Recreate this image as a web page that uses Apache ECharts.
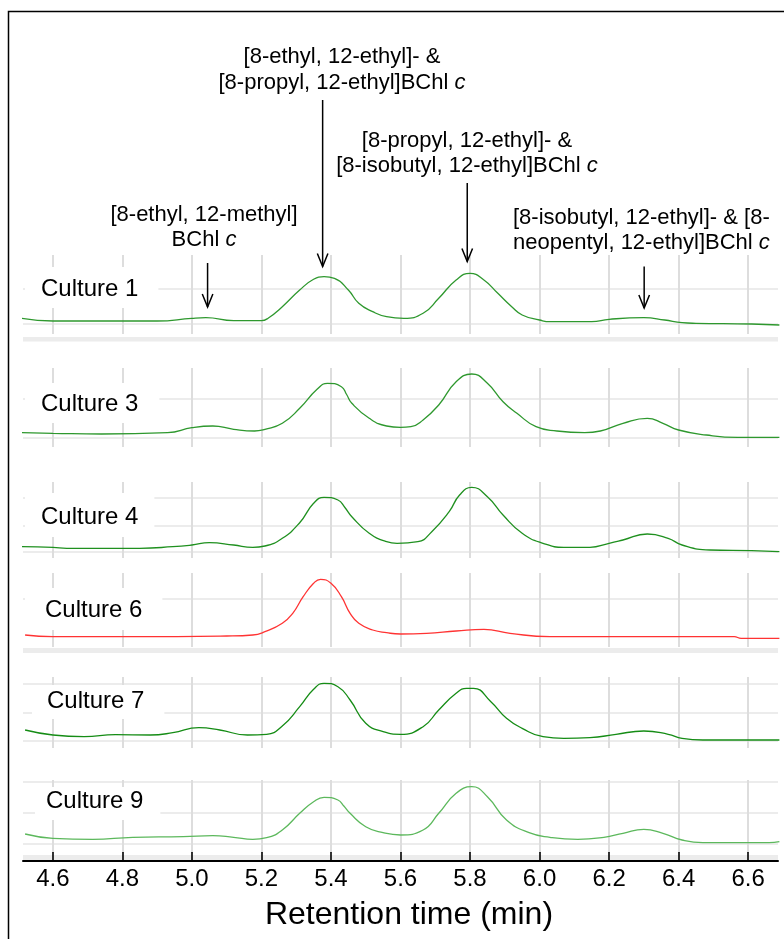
<!DOCTYPE html>
<html>
<head>
<meta charset="utf-8">
<script src="https://cdn.jsdelivr.net/npm/echarts@6/dist/echarts.min.js"></script>
<style>
  html, body { margin: 0; padding: 0; background: #fff; }
  #chart { width: 784px; height: 939px; }
</style>
</head>
<body>
<div id="chart"></div>
<script>
// Retention-time axis ticks (min)
const xTicks = [4.6, 4.8, 5.0, 5.2, 5.4, 5.6, 5.8, 6.0, 6.2, 6.4, 6.6];
const xRange = [4.514, 6.686];

const cultureNames = ['Culture 1', 'Culture 3', 'Culture 4', 'Culture 6', 'Culture 7', 'Culture 9'];

// Chromatogram traces: [retention time (min), detector signal]
const culture1 = [[4.51,15.7],[4.60,13.0],[4.75,13.0],[4.90,13.0],[5.00,15.7],[5.04,16.3],[5.12,13.3],[5.20,13.3],[5.22,16.0],[5.26,27.3],[5.31,44.0],[5.35,54.7],[5.38,57.3],[5.41,55.7],[5.45,44.0],[5.48,30.7],[5.52,22.3],[5.56,17.3],[5.61,15.7],[5.665,20.7],[5.71,35.7],[5.76,54.0],[5.80,60.7],[5.84,54.0],[5.88,40.7],[5.92,27.3],[5.95,19.0],[6.00,14.0],[6.03,12.3],[6.15,12.3],[6.20,14.7],[6.30,16.3],[6.36,14.0],[6.41,11.3],[6.45,10.7],[6.61,10.0],[6.69,9.0]];
const culture3 = [[4.51,14.3],[4.60,13.7],[4.74,13.0],[4.93,14.3],[5.00,19.3],[5.06,21.0],[5.12,17.7],[5.18,16.0],[5.21,17.7],[5.26,23.7],[5.31,38.7],[5.36,57.7],[5.39,63.7],[5.43,60.3],[5.445,52.5],[5.46,43.7],[5.51,28.7],[5.56,21.0],[5.60,19.7],[5.63,20.3],[5.665,27.0],[5.71,42.0],[5.76,65.3],[5.805,73.0],[5.85,63.7],[5.895,45.3],[5.935,33.7],[5.99,20.3],[6.05,16.0],[6.13,14.3],[6.175,16.0],[6.24,23.7],[6.31,28.7],[6.355,23.7],[6.40,17.0],[6.48,12.0],[6.57,9.7],[6.69,9.7]];
const culture4 = [[4.51,11.3],[4.60,10.7],[4.64,9.7],[4.74,9.7],[4.85,9.7],[4.945,11.3],[5.00,13.0],[5.05,15.3],[5.12,13.0],[5.175,10.7],[5.21,12.0],[5.26,19.7],[5.31,35.3],[5.35,54.7],[5.38,60.7],[5.42,58.0],[5.44,50.5],[5.46,41.3],[5.51,24.7],[5.56,16.3],[5.59,14.7],[5.65,16.3],[5.69,26.3],[5.74,46.3],[5.77,63.0],[5.805,70.7],[5.85,61.3],[5.895,43.0],[5.95,24.7],[6.01,14.7],[6.07,10.7],[6.145,10.7],[6.20,14.7],[6.24,18.0],[6.31,24.0],[6.37,19.7],[6.41,13.0],[6.49,8.0],[6.61,7.3],[6.69,6.3]];
const culture6 = [[4.52,12.0],[4.60,10.3],[4.83,10.3],[5.10,11.0],[5.175,12.0],[5.21,15.3],[5.26,23.7],[5.29,33.7],[5.32,50.3],[5.35,63.7],[5.37,67.7],[5.40,63.7],[5.43,50.3],[5.455,33.7],[5.48,23.7],[5.52,17.0],[5.56,14.3],[5.60,13.0],[5.675,13.7],[5.76,16.0],[5.84,17.7],[5.915,13.7],[6.03,10.3],[6.56,10.3],[6.58,8.7],[6.69,8.7]];
const culture7 = [[4.52,18.0],[4.60,13.0],[4.69,11.3],[4.78,13.3],[4.88,13.0],[4.945,15.3],[5.02,20.3],[5.08,18.0],[5.16,13.0],[5.215,13.7],[5.26,22.0],[5.31,41.3],[5.35,58.7],[5.38,64.7],[5.42,61.3],[5.455,48.0],[5.50,24.7],[5.55,16.3],[5.60,13.7],[5.665,21.3],[5.71,38.0],[5.76,54.7],[5.79,59.7],[5.81,59.7],[5.86,46.3],[5.905,29.7],[5.95,19.7],[6.01,11.3],[6.07,9.7],[6.145,10.3],[6.22,13.7],[6.30,17.0],[6.37,13.7],[6.41,9.7],[6.47,8.0],[6.69,8.0]];
const culture9 = [[4.52,19.0],[4.60,14.7],[4.715,13.7],[4.83,15.7],[4.975,16.3],[5.06,17.3],[5.12,15.7],[5.175,13.7],[5.215,15.3],[5.26,23.0],[5.31,39.7],[5.35,51.3],[5.38,55.7],[5.42,53.0],[5.437,47.0],[5.455,39.7],[5.50,26.3],[5.55,20.3],[5.60,18.0],[5.665,23.0],[5.71,39.7],[5.76,59.7],[5.805,66.3],[5.85,56.3],[5.905,33.0],[5.97,20.3],[6.03,15.7],[6.11,13.7],[6.185,15.7],[6.24,19.7],[6.30,23.7],[6.355,19.7],[6.41,13.0],[6.47,10.3],[6.66,10.3],[6.69,11.3]];

const traces = [culture1, culture3, culture4, culture6, culture7, culture9];

// Peak annotations: labels and the retention time each arrow points at
const peakLabels = [
  { lines: ['[8-ethyl, 12-methyl]', 'BChl '], time: 5.045 },
  { lines: ['[8-ethyl, 12-ethyl]- &', '[8-propyl, 12-ethyl]BChl '], time: 5.376 },
  { lines: ['[8-propyl, 12-ethyl]- &', '[8-isobutyl, 12-ethyl]BChl '], time: 5.792 },
  { lines: ['[8-isobutyl, 12-ethyl]- & [8-', 'neopentyl, 12-ethyl]BChl '], time: 6.301 }
];

// ---- layout and styling ----
const FONT = '"Liberation Sans", Arial, Helvetica, sans-serif';
const panels = [
  { top: 255, bottom: 334, color: '#2e982e', hLines: [10, 45],
    label: { left: 25, top: 267, padding: [10, 20, 7, 16] } },
  { top: 368, bottom: 447, color: '#2e982e', hLines: [9, 48],
    label: { left: 25, top: 383, padding: [9, 21, 7, 16] } },
  { top: 482, bottom: 558, color: '#1f901f', hLines: [6, 32, 60],
    label: { left: 25, top: 493, padding: [12, 16, 8, 16] } },
  { top: 573, bottom: 647, color: '#ff3333', hLines: [48],
    label: { left: 25, top: 588, padding: [10, 20, 8, 20] } },
  { top: 677, bottom: 748, color: '#158c15', hLines: [7, 35, 64],
    label: { left: 32, top: 685, padding: [4, 20, 6, 15] } },
  { top: 780, bottom: 853, color: '#5cb85c', hLines: [9, 40, 71],
    label: { left: 35, top: 787, padding: [2, 17, 7, 11] } }
];
// light separator strips; the last one carries the retention-time axis on its lower edge
const strips = [
  { top: 337, height: 4.5 },
  { top: 648, height: 5 },
  { top: 855, height: 6, axis: true }
];
const annotationLayout = [
  { x: 204, y: 227, align: 'center', lineHeight: 25, arrowTop: 263, arrowTip: 307 },
  { x: 342, y: 70, align: 'center', lineHeight: 26, arrowTop: 100, arrowTip: 266.5 },
  { x: 467, y: 153.5, align: 'center', lineHeight: 25, arrowTop: 183, arrowTip: 261.5 },
  { x: 513, y: 230.5, align: 'left', lineHeight: 25.5, arrowTop: 266.5, arrowTip: 308 }
];
const GRID_LEFT = 23, GRID_RIGHT = 6;
const GRID_X = '#dddddd', GRID_Y = '#e6e6e6', BAND = '#ececec';

const chart = echarts.init(document.getElementById('chart'), null, { renderer: 'canvas' });

const grid = [], xAxis = [], yAxis = [], series = [], title = [];

panels.forEach((p, i) => {
  grid.push({ left: GRID_LEFT, right: GRID_RIGHT, top: p.top, height: p.bottom - p.top, outerBoundsMode: 'none' });

  xAxis.push({
    type: 'value', gridIndex: i, min: xRange[0], max: xRange[1], position: 'bottom',
    axisLine: { show: false },
    axisTick: { show: false, customValues: xTicks },
    axisLabel: { show: false, customValues: xTicks },
    splitLine: { show: true, lineStyle: { color: GRID_X, width: 2 } }
  });

  yAxis.push({
    type: 'value', gridIndex: i, min: 0, max: p.bottom - p.top,
    axisLine: { show: false }, axisLabel: { show: false },
    axisTick: { show: false, customValues: p.hLines },
    splitLine: { show: true, lineStyle: { color: GRID_Y, width: 1.5 } }
  });

  series.push({
    name: cultureNames[i], type: 'line', xAxisIndex: i, yAxisIndex: i,
    data: traces[i], showSymbol: false, smooth: 0.5,
    lineStyle: { color: p.color, width: 1.3 }, silent: true
  });

  title.push({
    text: cultureNames[i], left: p.label.left, top: p.label.top,
    padding: p.label.padding, backgroundColor: '#fff',
    textStyle: { fontSize: 24, fontWeight: 'normal', color: '#000', fontFamily: FONT, lineHeight: 24 }
  });
});

strips.forEach(st => {
  const gi = grid.length;
  grid.push({ left: GRID_LEFT, right: GRID_RIGHT, top: st.top, height: st.height,
    show: true, backgroundColor: BAND, borderWidth: 0, outerBoundsMode: 'none' });
  yAxis.push({ type: 'value', gridIndex: gi, show: false, min: 0, max: 1 });
  if (!st.axis) {
    xAxis.push({ type: 'value', gridIndex: gi, show: false, min: xRange[0], max: xRange[1] });
    return;
  }
  xAxis.push({
    type: 'value', gridIndex: gi, min: xRange[0], max: xRange[1], position: 'bottom',
    axisLine: { show: true, lineStyle: { color: '#000', width: 2 } },
    axisTick: { show: true, inside: true, length: 9, customValues: xTicks,
      lineStyle: { color: '#000', width: 1.6 } },
    axisLabel: { show: true, customValues: xTicks, margin: 6, fontSize: 24, color: '#000',
      fontFamily: FONT, formatter: v => v.toFixed(1) },
    splitLine: { show: false },
    name: 'Retention time (min)',
    nameLocation: 'middle', nameGap: 38,
    nameTextStyle: { fontSize: 32, color: '#000', fontFamily: FONT, padding: [0, 0, 0, 17] }
  });
});

chart.setOption({
  animation: false,
  backgroundColor: '#fff',
  title, grid, xAxis, yAxis, series
});

// annotations, arrows and frame
const graphic = [];
graphic.push({
  type: 'polyline', silent: true, z: 100,
  shape: { points: [[8.5, 939], [8.5, 11.5], [784, 11.5]] },
  style: { stroke: '#000', lineWidth: 1.5, fill: null }
});

peakLabels.forEach((a, k) => {
  const L = annotationLayout[k];
  const text = a.lines.map((ln, j) =>
    j === a.lines.length - 1 ? '{n|' + ln + '}{i|c}' : '{n|' + ln + '}').join('\n');
  graphic.push({
    type: 'text', silent: true, z: 100,
    style: {
      x: L.x, y: L.y, text, align: L.align, verticalAlign: 'middle',
      rich: {
        n: { fontSize: 22, fontFamily: FONT, fill: '#000', lineHeight: L.lineHeight },
        i: { fontSize: 22, fontFamily: FONT, fill: '#000', fontStyle: 'italic', lineHeight: L.lineHeight }
      }
    }
  });
  const x = chart.convertToPixel({ xAxisIndex: 0 }, a.time);
  graphic.push({
    type: 'line', silent: true, z: 100,
    shape: { x1: x, y1: L.arrowTop, x2: x, y2: L.arrowTip },
    style: { stroke: '#000', lineWidth: 1.5 }
  });
  graphic.push({
    type: 'polyline', silent: true, z: 100,
    shape: { points: [[x - 5.3, L.arrowTip - 13], [x, L.arrowTip], [x + 5.3, L.arrowTip - 13]] },
    style: { stroke: '#000', lineWidth: 1.5, fill: null }
  });
});

chart.setOption({ graphic });
</script>
</body>
</html>
